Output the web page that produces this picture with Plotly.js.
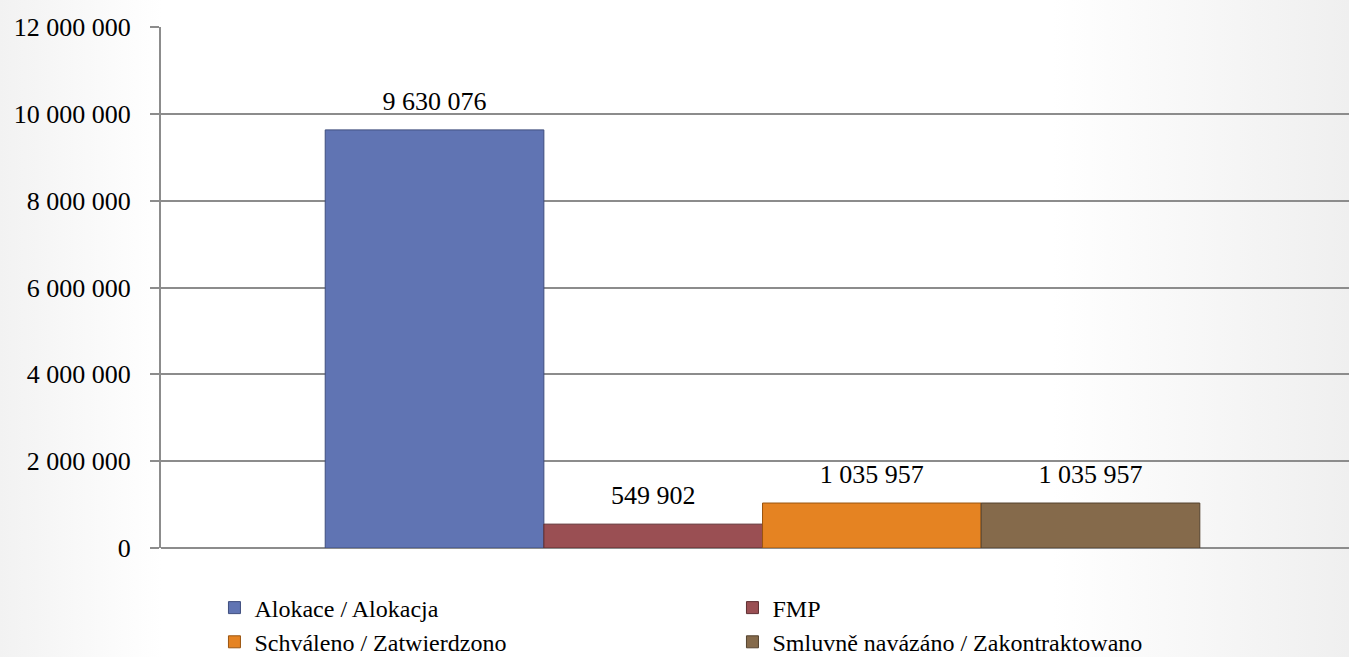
<!DOCTYPE html>
<html>
<head>
<meta charset="utf-8">
<script src="https://cdn.plot.ly/plotly-3.0.1.min.js"></script>
<style>
html,body{margin:0;padding:0;}
body{background:linear-gradient(to right,#f2f2f2 0%,#ffffff 12%,#ffffff 78%,#efefef 100%);}
#chart{width:1349px;height:657px;}
</style>
</head>
<body>
<div id="chart"></div>
<script>
var category = [""];
var seriesNames = ["Alokace / Alokacja", "FMP", "Schváleno / Zatwierdzono", "Smluvně navázáno / Zakontraktowano"];
var seriesValues = [9630076, 549902, 1035957, 1035957];
var seriesColors = ["#6074B3", "#9A4F53", "#E58322", "#856A4B"];
var lineColors = ["#3F4E7E", "#5E2E31", "#9A5510", "#54422E"];
var tickVals = [0, 2000000, 4000000, 6000000, 8000000, 10000000, 12000000];

var FONT = "'Liberation Serif', 'DejaVu Serif', serif";

var bars = seriesNames.map(function(name, i){
  return {
    type: "bar",
    name: name,
    x: category,
    y: [seriesValues[i]],
    marker: {color: seriesColors[i], line: {color: lineColors[i], width: 1}},
    hoverinfo: "name+y"
  };
});

var labels = seriesNames.map(function(name, i){
  return {
    type: "scatter",
    mode: "markers+text",
    name: name + " label",
    showlegend: false,
    x: category,
    y: [seriesValues[i]],
    offsetgroup: String(i),
    alignmentgroup: "lbl",
    marker: {size: 20, opacity: 0},
    texttemplate: "%{y:,d}",
    textposition: "top center",
    cliponaxis: false,
    textfont: {family: FONT, size: 26, color: "#000"},
    hoverinfo: "skip"
  };
});

var layout = {
  width: 1349,
  height: 657,
  separators: ", ",
  paper_bgcolor: "rgba(0,0,0,0)",
  plot_bgcolor: "rgba(0,0,0,0)",
  font: {family: FONT, size: 26, color: "#000"},
  margin: {l: 161, r: 0, t: 27, b: 109, pad: 0, autoexpand: false},
  barmode: "group",
  bargap: 0.273,
  bargroupgap: 0,
  scattermode: "group",
  scattergap: 0.273,
  showlegend: true,
  xaxis: {
    type: "category",
    range: [-0.5, 0.4875],
    showticklabels: false,
    showgrid: false,
    zeroline: false,
    showline: false,
    ticks: ""
  },
  yaxis: {
    range: [0, 12000000],
    tickvals: tickVals,
    tickformat: ",d",
    showgrid: true,
    gridcolor: "#8c8c8c",
    gridwidth: 2,
    zeroline: true,
    zerolinecolor: "#8c8c8c",
    zerolinewidth: 2,
    showline: true,
    linecolor: "#8c8c8c",
    linewidth: 2,
    ticks: "outside",
    ticklen: 9,
    tickcolor: "#8c8c8c",
    tickwidth: 2,
    ticklabelstandoff: 14,
    tickfont: {family: FONT, size: 26, color: "#000"}
  },
  legend: {
    orientation: "h",
    x: 0.045,
    xanchor: "left",
    y: -0.072,
    yanchor: "top",
    entrywidth: 473,
    entrywidthmode: "pixels",
    traceorder: "normal",
    font: {family: FONT, size: 24, color: "#000"},
    itemwidth: 30,
    tracegroupgap: 0,
    bgcolor: "rgba(0,0,0,0)"
  }
};

Plotly.newPlot("chart", bars.concat(labels), layout, {displayModeBar: false, staticPlot: true});
</script>
</body>
</html>
